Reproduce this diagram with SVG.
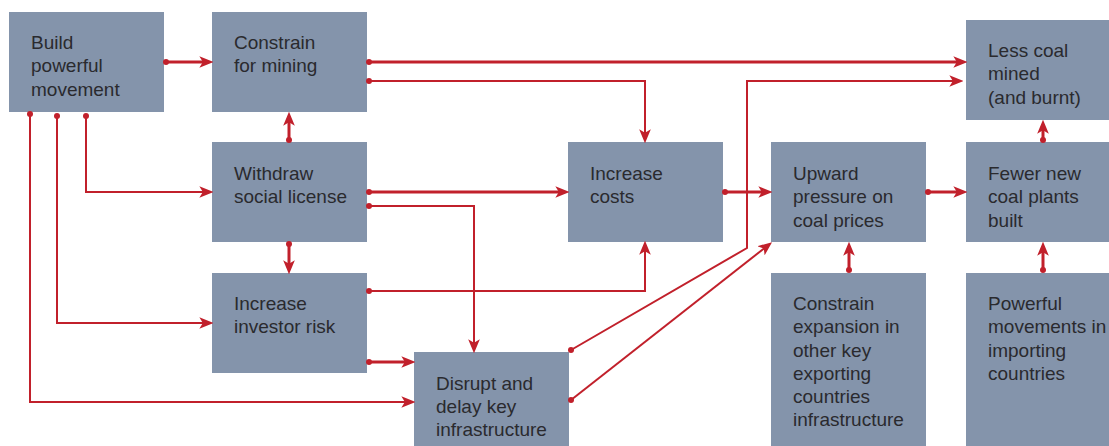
<svg xmlns="http://www.w3.org/2000/svg" width="1109" height="446" viewBox="0 0 1109 446">
<style>
.box{fill:#8494ab}
.t{font-family:"Liberation Sans",Arial,sans-serif;font-size:19px;fill:#2a2a2e}
.thick{fill:none;stroke:#c1202b;stroke-width:3}
.thin{fill:none;stroke:#c1202b;stroke-width:2}
.dot{fill:#c1202b}
</style>
<defs>
<marker id="ah" markerUnits="userSpaceOnUse" markerWidth="14" markerHeight="12" refX="4" refY="5" orient="auto" viewBox="0 0 12 10">
<path d="M0,0 L12,5 L0,10 L3,5 z" fill="#c1202b"/>
</marker>
</defs>
<rect width="1109" height="446" fill="#ffffff"/>

<g id="build"><rect class="box" x="9" y="12" width="155" height="100"/>
<text class="t" x="31"><tspan x="31" y="49">Build</tspan><tspan x="31" y="72">powerful</tspan><tspan x="31" y="96">movement</tspan></text></g>

<g id="constrain-mining"><rect class="box" x="212" y="12" width="155" height="100"/>
<text class="t"><tspan x="234" y="49">Constrain</tspan><tspan x="234" y="72">for mining</tspan></text></g>

<g id="withdraw"><rect class="box" x="212" y="142" width="155" height="100"/>
<text class="t"><tspan x="234" y="180">Withdraw</tspan><tspan x="234" y="203">social license</tspan></text></g>

<g id="investor-risk"><rect class="box" x="212" y="273" width="155" height="100"/>
<text class="t"><tspan x="234" y="310">Increase</tspan><tspan x="234" y="333">investor risk</tspan></text></g>

<g id="disrupt"><rect class="box" x="414" y="352" width="155" height="100"/>
<text class="t"><tspan x="436" y="390">Disrupt and</tspan><tspan x="436" y="413">delay key</tspan><tspan x="436" y="436">infrastructure</tspan></text></g>

<g id="increase-costs"><rect class="box" x="568" y="142" width="155" height="100"/>
<text class="t"><tspan x="590" y="180">Increase</tspan><tspan x="590" y="203">costs</tspan></text></g>

<g id="upward"><rect class="box" x="771" y="142" width="155" height="100"/>
<text class="t"><tspan x="793" y="180">Upward</tspan><tspan x="793" y="203">pressure on</tspan><tspan x="793" y="227">coal prices</tspan></text></g>

<g id="less-coal"><rect class="box" x="966" y="20" width="155" height="100"/>
<text class="t"><tspan x="988" y="57">Less coal</tspan><tspan x="988" y="80">mined</tspan><tspan x="988" y="104">(and burnt)</tspan></text></g>

<g id="fewer-plants"><rect class="box" x="966" y="142" width="155" height="100"/>
<text class="t"><tspan x="988" y="180">Fewer new</tspan><tspan x="988" y="203">coal plants</tspan><tspan x="988" y="227">built</tspan></text></g>

<g id="constrain-expansion"><rect class="box" x="771" y="273" width="155" height="180"/>
<text class="t"><tspan x="793" y="310">Constrain</tspan><tspan x="793" y="333">expansion in</tspan><tspan x="793" y="357">other key</tspan><tspan x="793" y="380">exporting</tspan><tspan x="793" y="403">countries</tspan><tspan x="793" y="426">infrastructure</tspan></text></g>

<g id="importing"><rect class="box" x="966" y="273" width="155" height="180"/>
<text class="t"><tspan x="988" y="310">Powerful</tspan><tspan x="988" y="333">movements in</tspan><tspan x="988" y="357">importing</tspan><tspan x="988" y="380">countries</tspan></text></g>

<g id="connectors">
<path class="thick" d="M166,62 H204" marker-end="url(#ah)"/><circle class="dot" cx="166" cy="62" r="3"/>
<path class="thick" d="M369,62 H958" marker-end="url(#ah)"/><circle class="dot" cx="369" cy="62" r="3"/>
<path class="thin" d="M369,81 H645 V134" marker-end="url(#ah)"/><circle class="dot" cx="369" cy="81" r="3"/>
<path class="thick" d="M289,140 V121" marker-end="url(#ah)"/><circle class="dot" cx="289" cy="140" r="3"/>
<path class="thin" d="M86,116 V192 H204" marker-end="url(#ah)"/><circle class="dot" cx="86" cy="116" r="3"/>
<path class="thin" d="M57,116 V323 H204" marker-end="url(#ah)"/><circle class="dot" cx="57" cy="116" r="3"/>
<path class="thin" d="M30,114 V402 H406" marker-end="url(#ah)"/><circle class="dot" cx="30" cy="114" r="3"/>
<path class="thick" d="M369,192 H560" marker-end="url(#ah)"/><circle class="dot" cx="369" cy="192" r="3"/>
<path class="thin" d="M369,206 H474 V344" marker-end="url(#ah)"/><circle class="dot" cx="369" cy="206" r="3"/>
<path class="thick" d="M289,244 V265" marker-end="url(#ah)"/><circle class="dot" cx="289" cy="244" r="3"/>
<path class="thin" d="M369,291 H645 V250" marker-end="url(#ah)"/><circle class="dot" cx="369" cy="291" r="3"/>
<path class="thick" d="M369,362 H406" marker-end="url(#ah)"/><circle class="dot" cx="369" cy="362" r="3"/>
<path class="thin" d="M571,350 L747,248 V81 H954" marker-end="url(#ah)"/><circle class="dot" cx="571" cy="350" r="3"/>
<path class="thin" d="M571,400 L764.7,247.9" marker-end="url(#ah)"/><circle class="dot" cx="571" cy="400" r="3"/>
<path class="thick" d="M725,192 H763" marker-end="url(#ah)"/><circle class="dot" cx="725" cy="192" r="3"/>
<path class="thick" d="M928,192 H958" marker-end="url(#ah)"/><circle class="dot" cx="928" cy="192" r="3"/>
<path class="thick" d="M1043,140 V129" marker-end="url(#ah)"/><circle class="dot" cx="1043" cy="140" r="3"/>
<path class="thick" d="M849,270 V251" marker-end="url(#ah)"/><circle class="dot" cx="849" cy="270" r="3"/>
<path class="thick" d="M1043,270 V251" marker-end="url(#ah)"/><circle class="dot" cx="1043" cy="270" r="3"/>
</g>
</svg>
